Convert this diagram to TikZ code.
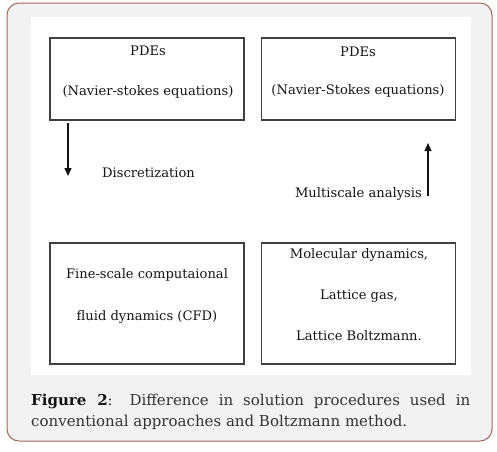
\documentclass[tikz,border=0pt]{standalone}
\usepackage{fontspec}
\setmainfont{DejaVu Serif}
\newfontfamily\capfont{DejaVu Serif}
\usetikzlibrary{arrows.meta}
\definecolor{bg}{HTML}{F2F2F2}
\definecolor{frame}{HTML}{A0685A}
\definecolor{boxline}{HTML}{404040}
\definecolor{txt}{HTML}{141414}
\definecolor{captxt}{HTML}{333333}
\begin{document}
\begin{tikzpicture}[x=1pt,y=-1pt,
  box/.style={draw=boxline, line width=1.2pt, minimum width=194pt, inner sep=0pt},
  lbl/.style={font=\fontsize{13.1}{18}\selectfont, text=txt, inner sep=0pt, anchor=base},
  arr/.style={-{Triangle[length=8pt,width=7pt]}, line width=1.1pt, draw=txt}]
\useasboundingbox (0,0) rectangle (497,451);
\draw[draw=frame, fill=bg, rounded corners=12pt, line width=1pt] (7,3) rectangle (492,441);
\fill[white] (31,17) rectangle (471,375);
% boxes
\node[box, minimum height=82pt] (b1) at (147,79) {};
\node[box, minimum height=82pt] (b2) at (358.5,79) {};
\node[box, minimum height=121pt] (b3) at (147,303.5) {};
\node[box, minimum height=121pt] (b4) at (358.5,303.5) {};
% texts
\node[lbl] (b1a) at (148,55) {PDEs};
\node[lbl] (b1b) at (148,95) {(Navier-stokes equations)};
\node[lbl] (b2a) at (358,56) {PDEs};
\node[lbl] (b2b) at (358,94) {(Navier-Stokes equations)};
\node[lbl] (b3a) at (147,278) {Fine-scale computaional};
\node[lbl] (b3b) at (147,320) {fluid dynamics (CFD)};
\node[lbl] (b4a) at (359,258) {Molecular dynamics,};
\node[lbl] (b4b) at (359,299) {Lattice gas,};
\node[lbl] (b4c) at (359,340) {Lattice Boltzmann.};
\node[lbl, anchor=base west] (d) at (102,177) {Discretization};
\node[lbl, anchor=base east] (m) at (422,197) {Multiscale analysis};
% arrows
\coordinate (a1s) at (68,123);
\coordinate (a1e) at (68,176);
\coordinate (a2s) at (428,196);
\coordinate (a2e) at (428,143);
\draw[arr] (a1s) -- (a1e);
\draw[arr] (a2s) -- (a2e);
% caption
\node[anchor=north west, inner sep=0pt, text width=439pt, align=justify,
      font=\capfont\fontsize{15}{20.5}\selectfont, text=captxt] (cap) at (31,394)
  {\hyphenpenalty=10000 \textcolor{txt}{\bfseries Figure 2}: Difference in solution procedures used in\linebreak conventional approaches and Boltzmann method.};
\end{tikzpicture}
\end{document}
